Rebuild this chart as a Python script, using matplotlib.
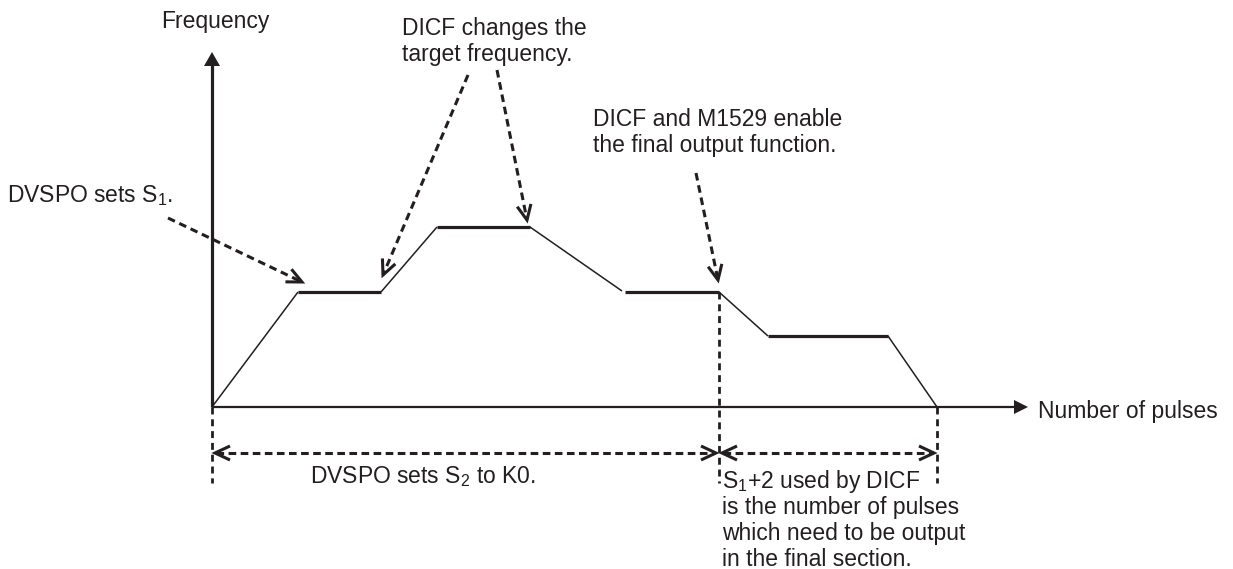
import matplotlib
matplotlib.use("Agg")
import matplotlib.pyplot as plt
import numpy as np

plt.rcParams['font.family'] = ['Liberation Sans', 'DejaVu Sans']
plt.rcParams['mathtext.fontset'] = 'custom'
plt.rcParams['mathtext.rm'] = 'Liberation Sans'
plt.rcParams['mathtext.default'] = 'regular'
plt.rcParams['lines.scale_dashes'] = False

INK = '#231f20'
FS = 16.5

# --- данные профиля (x = импульсы, y = частота), разрыв обозначен None ---
profile_x = [0, 86, 169, 225, 318, 410, None, 413, 507, 556, 676, 725]
profile_y = [0, 115, 115, 180, 180, 116, None, 115, 115, 71, 71, 0]

x_axis_end = 816
y_axis_top = 355
guide_bottom = -76
dim_y = -46
final_start = 507   # начало финального участка
final_end = 725     # конец (ноль частоты)

# пунктирные выноски: (откуда, куда)
callouts = [((-44, 189), (90, 125)),
            ((256, 332), (171, 132)),
            ((285, 337), (315, 187)),
            ((484, 234), (506, 127))]

labels = [
    (3, 379, ['Frequency'], 'center'),
    (190, 372, ['DICF changes the', 'target frequency.'], 'left'),
    (-205, 205, ['DVSPO sets S$_1$.'], 'left'),
    (381, 281, ['DICF and M1529 enable', 'the final output function.'], 'left'),
    (826, -11, ['Number of pulses'], 'left'),
    (98, -76, ['DVSPO sets S$_2$ to K0.'], 'left'),
    (510, -81, ['S$_1$+2 used by DICF', 'is the number of pulses',
                'which need to be output', 'in the final section.'], 'left'),
]

fig = plt.figure(figsize=(12.33, 5.69), dpi=100)
ax = fig.add_axes([0, 0, 1, 1])
ax.set_xlim(-212, 1021)
ax.set_ylim(-162, 407)
ax.axis('off')


def chevron(ax, tip, direction, length=15, half=7, lw=2.2):
    d = np.asarray(direction, float)
    d = d / np.linalg.norm(d)
    n = np.array([-d[1], d[0]])
    t = np.asarray(tip, float)
    back = t - d * length
    ax.plot([back[0] + n[0] * half, t[0], back[0] - n[0] * half],
            [back[1] + n[1] * half, t[1], back[1] - n[1] * half],
            color=INK, lw=lw, solid_joinstyle='miter', solid_capstyle='butt')


def filled_head(ax, tip, direction, length=13, half=7.5):
    d = np.asarray(direction, float)
    d = d / np.linalg.norm(d)
    n = np.array([-d[1], d[0]])
    t = np.asarray(tip, float)
    back = t - d * length
    pts = np.array([t, back + n * half, back - n * half])
    ax.fill(pts[:, 0], pts[:, 1], color=INK, lw=0)


# оси
ax.plot([0, 0], [0, y_axis_top - 12], color=INK, lw=2.3, solid_capstyle='butt')
filled_head(ax, (0, y_axis_top), (0, 1), length=14, half=8)
ax.plot([0, x_axis_end - 12], [0, 0], color=INK, lw=1.6, solid_capstyle='butt')
filled_head(ax, (x_axis_end, 0), (1, 0), length=14, half=7)

# профиль частоты: горизонтали толще
for i in range(len(profile_x) - 1):
    x0, x1 = profile_x[i], profile_x[i + 1]
    y0, y1 = profile_y[i], profile_y[i + 1]
    if None in (x0, x1):
        continue
    lw = 2.3 if y0 == y1 else 1.1
    ax.plot([x0, x1], [y0, y1], color=INK, lw=lw, solid_capstyle='butt')

# вертикальные направляющие
ax.plot([0, 0], [0, guide_bottom], color=INK, lw=2.0, dashes=(5, 3.5))
ax.plot([final_start, final_start], [profile_y[8], guide_bottom], color=INK, lw=2.0, dashes=(5, 3.5))
ax.plot([final_end, final_end], [0, guide_bottom], color=INK, lw=2.0, dashes=(5, 3.5))

# размерные стрелки
for a, b in [(0, final_start), (final_start, final_end)]:
    ax.plot([a + 4, b - 4], [dim_y, dim_y], color=INK, lw=2.2, dashes=(5.5, 3.2))
    chevron(ax, (a + 3, dim_y), (-1, 0))
    chevron(ax, (b - 3, dim_y), (1, 0))

# выноски
for (sx, sy), (ex, ey) in callouts:
    ax.plot([sx, ex], [sy, ey], color=INK, lw=2.2, dashes=(5.5, 3.5))
    chevron(ax, (ex, ey), (ex - sx, ey - sy))

# подписи
for x, y, lines, ha in labels:
    for k, line in enumerate(lines):
        ax.text(x, y - 26 * k, line, fontsize=FS, color=INK, ha=ha, va='baseline')

fig.savefig('out.png', dpi=100)
